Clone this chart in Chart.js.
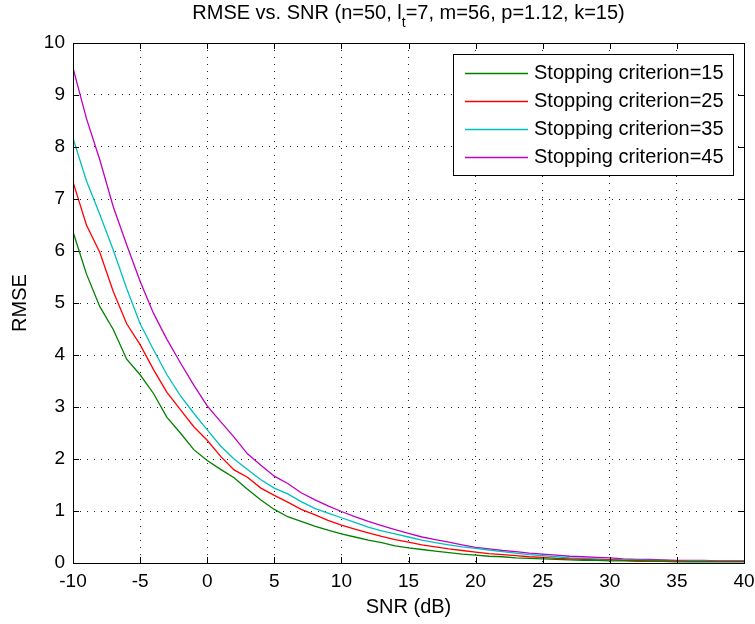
<!DOCTYPE html>
<html>
<head>
<meta charset="utf-8">
<script src="https://cdn.jsdelivr.net/npm/chart.js@4/dist/chart.umd.min.js"></script>
<style>
  html, body { margin: 0; padding: 0; background: #fff; }
  canvas { display: block; }
</style>
</head>
<body>
<canvas id="rmseChart" width="755" height="624"></canvas>
<script>
// SNR sweep in dB
const snrDb = [
  -10, -9, -8, -7, -6, -5, -4, -3, -2, -1,
  0, 1, 2, 3, 4, 5, 6, 7, 8, 9,
  10, 11, 12, 13, 14, 15, 16, 17, 18, 19,
  20, 21, 22, 23, 24, 25, 26, 27, 28, 29,
  30, 31, 32, 33, 34, 35, 36, 37, 38, 39, 40
];

// RMSE for each stopping criterion
const rmseStop15 = [
  6.37, 5.56, 4.93, 4.49, 3.92, 3.62, 3.26, 2.80, 2.50, 2.18,
  1.97, 1.80, 1.64, 1.42, 1.21, 1.03, 0.89, 0.80, 0.71, 0.63,
  0.56, 0.50, 0.44, 0.39, 0.33, 0.29, 0.26, 0.23, 0.20, 0.17,
  0.15, 0.13, 0.12, 0.10, 0.09, 0.08, 0.07, 0.06, 0.05, 0.05,
  0.04, 0.04, 0.03, 0.03, 0.03, 0.02, 0.02, 0.02, 0.02, 0.02, 0.02
];
const rmseStop25 = [
  7.33, 6.50, 5.97, 5.22, 4.60, 4.20, 3.72, 3.28, 2.95, 2.62,
  2.36, 2.05, 1.79, 1.65, 1.44, 1.30, 1.17, 1.03, 0.93, 0.82,
  0.73, 0.65, 0.58, 0.51, 0.45, 0.40, 0.35, 0.31, 0.27, 0.24,
  0.21, 0.18, 0.16, 0.14, 0.12, 0.11, 0.09, 0.08, 0.07, 0.06,
  0.06, 0.05, 0.05, 0.04, 0.04, 0.04, 0.03, 0.03, 0.03, 0.03, 0.03
];
const rmseStop35 = [
  8.17, 7.35, 6.70, 6.02, 5.28, 4.60, 4.10, 3.62, 3.22, 2.88,
  2.56, 2.25, 2.00, 1.80, 1.60, 1.44, 1.33, 1.18, 1.05, 0.96,
  0.87, 0.78, 0.69, 0.62, 0.56, 0.50, 0.44, 0.39, 0.35, 0.31,
  0.28, 0.25, 0.22, 0.19, 0.16, 0.14, 0.12, 0.10, 0.09, 0.08,
  0.07, 0.06, 0.06, 0.05, 0.05, 0.04, 0.04, 0.04, 0.03, 0.03, 0.03
];
const rmseStop45 = [
  9.52, 8.55, 7.75, 6.85, 6.12, 5.42, 4.80, 4.30, 3.85, 3.42,
  3.02, 2.72, 2.42, 2.10, 1.88, 1.67, 1.53, 1.35, 1.22, 1.10,
  0.99, 0.89, 0.80, 0.72, 0.64, 0.57, 0.50, 0.45, 0.40, 0.35,
  0.30, 0.27, 0.24, 0.22, 0.19, 0.17, 0.15, 0.13, 0.12, 0.11,
  0.10, 0.08, 0.07, 0.07, 0.06, 0.05, 0.05, 0.05, 0.04, 0.04, 0.04
];

const seriesLabels = [
  "Stopping criterion=15",
  "Stopping criterion=25",
  "Stopping criterion=35",
  "Stopping criterion=45"
];
const seriesValues = [rmseStop15, rmseStop25, rmseStop35, rmseStop45];
const seriesColors = ["#008000", "#ff0000", "#00bfbf", "#bf00bf"];

const xTicks = [-10, -5, 0, 5, 10, 15, 20, 25, 30, 35, 40];
const yTicks = [0, 1, 2, 3, 4, 5, 6, 7, 8, 9, 10];

const FONT = '"Liberation Sans", Arial, Helvetica, sans-serif';
Chart.defaults.font.family = FONT;
Chart.defaults.font.size = 19;
Chart.defaults.color = "#000";

// Title with the subscript on l_t
const titlePlugin = {
  id: "plotTitle",
  afterDraw(chart) {
    const ctx = chart.ctx;
    const { left, right } = chart.chartArea;
    const head = "RMSE vs. SNR (n=50, l";
    const sub = "t";
    const tail = "=7, m=56, p=1.12, k=15)";
    ctx.save();
    ctx.fillStyle = "#000";
    ctx.textBaseline = "alphabetic";
    ctx.font = "20px " + FONT;
    const wHead = ctx.measureText(head).width;
    const wTail = ctx.measureText(tail).width;
    ctx.font = "14px " + FONT;
    const wSub = ctx.measureText(sub).width;
    let x = (left + right) / 2 - (wHead + wSub + wTail) / 2;
    ctx.font = "20px " + FONT;
    ctx.fillText(head, x, 19);
    x += wHead;
    ctx.font = "14px " + FONT;
    ctx.fillText(sub, x, 27);
    x += wSub;
    ctx.font = "20px " + FONT;
    ctx.fillText(tail, x, 19);
    ctx.restore();
  }
};

// Box frame with inward tick marks on all four sides
const framePlugin = {
  id: "axesFrame",
  afterDatasetsDraw(chart) {
    const ctx = chart.ctx;
    const { left, right, top, bottom } = chart.chartArea;
    const xs = chart.scales.x, ys = chart.scales.y;
    const tick = 6;
    ctx.save();
    ctx.strokeStyle = "#000";
    ctx.lineWidth = 1;
    ctx.beginPath();
    xTicks.forEach(v => {
      const px = Math.round(xs.getPixelForValue(v)) + 0.5;
      ctx.moveTo(px, bottom); ctx.lineTo(px, bottom - tick);
      ctx.moveTo(px, top); ctx.lineTo(px, top + tick);
    });
    yTicks.forEach(v => {
      const py = Math.round(ys.getPixelForValue(v)) + 0.5;
      ctx.moveTo(left, py); ctx.lineTo(left + tick, py);
      ctx.moveTo(right, py); ctx.lineTo(right - tick, py);
    });
    ctx.stroke();
    ctx.strokeRect(Math.round(left) + 0.5, Math.round(top) + 0.5,
                   Math.round(right - left), Math.round(bottom - top));
    ctx.restore();
  }
};

// Boxed legend in the upper right corner
const legendPlugin = {
  id: "boxedLegend",
  afterDraw(chart) {
    const ctx = chart.ctx;
    const box = { x: 453, y: 54, w: 280, h: 121 };
    const rowTop = 73, rowStep = 28;
    ctx.save();
    ctx.fillStyle = "#fff";
    ctx.fillRect(box.x, box.y, box.w, box.h);
    ctx.strokeStyle = "#000";
    ctx.lineWidth = 1;
    ctx.strokeRect(box.x + 0.5, box.y + 0.5, box.w, box.h);
    ctx.font = "20px " + FONT;
    ctx.textBaseline = "middle";
    ctx.textAlign = "left";
    chart.data.datasets.forEach((ds, i) => {
      const y = rowTop + i * rowStep;
      ctx.strokeStyle = ds.borderColor;
      ctx.lineWidth = 1.3;
      ctx.beginPath();
      ctx.moveTo(465, y + 0.5);
      ctx.lineTo(528, y + 0.5);
      ctx.stroke();
      ctx.fillStyle = "#000";
      ctx.fillText(ds.label, 534, y);
    });
    ctx.restore();
  }
};

const datasets = seriesValues.map((vals, i) => ({
  label: seriesLabels[i],
  data: vals.map((v, j) => ({ x: snrDb[j], y: v })),
  borderColor: seriesColors[i],
  backgroundColor: seriesColors[i],
  borderWidth: 1.3,
  pointRadius: 0,
  tension: 0,
  fill: false
}));

new Chart(document.getElementById("rmseChart"), {
  type: "line",
  data: { datasets },
  options: {
    responsive: false,
    animation: false,
    events: [],
    layout: { padding: { top: 43, right: 11, left: 0, bottom: 0 } },
    plugins: {
      legend: { display: false },
      title: { display: false },
      tooltip: { enabled: false }
    },
    scales: {
      x: {
        type: "linear",
        min: -10,
        max: 40,
        afterBuildTicks: s => { s.ticks = xTicks.map(v => ({ value: v })); },
        afterFit: s => {
          s.height = 61;
          s.paddingLeft = 0;
          s.paddingRight = 0;
        },
        ticks: { padding: 7, maxRotation: 0, autoSkip: false, font: { size: 19 } },
        grid: { color: "#222", lineWidth: 1, drawTicks: false },
        border: { display: false, dash: [1, 6] },
        title: { display: true, text: "SNR (dB)", font: { size: 20 }, padding: { top: 0, bottom: 5 } }
      },
      y: {
        type: "linear",
        min: 0,
        max: 10,
        afterBuildTicks: s => { s.ticks = yTicks.map(v => ({ value: v })); },
        afterFit: s => {
          s.width = 73;
          s.paddingTop = 0;
          s.paddingBottom = 0;
        },
        ticks: { padding: 8, autoSkip: false, font: { size: 19 } },
        grid: { color: "#222", lineWidth: 1, drawTicks: false },
        border: { display: false, dash: [1, 6] },
        title: { display: true, text: "RMSE", font: { size: 20 }, padding: { top: 8, bottom: 0 } }
      }
    }
  },
  plugins: [titlePlugin, framePlugin, legendPlugin]
});
</script>
</body>
</html>
